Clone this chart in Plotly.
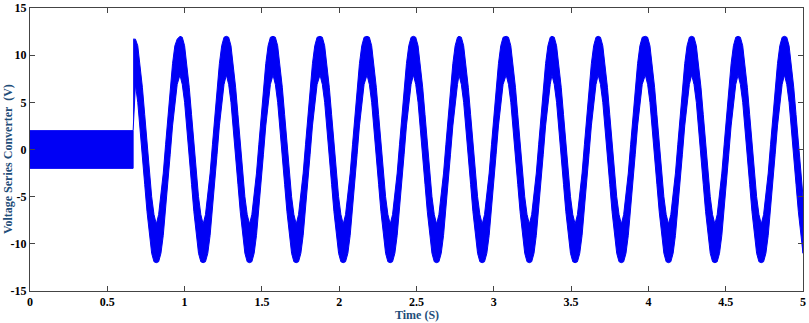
import plotly.graph_objects as go

# PWM section before the converter starts (0 .. 0.667 s)
pwm_time = [0.0, 0.667]
pwm_high = 2.0
pwm_low = -2.0

# read-off peak times of the sine part (first one is the switch-on instant)
peak_times = [0.667, 0.97, 1.27, 1.572, 1.876, 2.18, 2.48, 2.775, 3.08,
              3.376, 3.675, 3.98, 4.28, 4.58, 4.88]
first_peak_top = 11.7
t_end = 5.0

# band shape of one cycle (offset from its peak, upper / lower edge in V)
cycle_offset = [0.0, 0.015, 0.03, 0.045, 0.06, 0.075, 0.09, 0.105, 0.12, 0.135,
                0.15, 0.165, 0.18, 0.195, 0.21, 0.225, 0.24, 0.255, 0.27, 0.285]
cycle_upper = [12.0, 11.9, 11.0, 9.1, 6.6, 3.7, 0.5, -2.5, -5.0, -6.9,
               -7.9, -6.9, -5.0, -2.5, 0.5, 3.7, 6.6, 9.1, 11.0, 11.9]
cycle_lower = [7.9, 6.9, 5.0, 2.5, -0.5, -3.7, -6.6, -9.1, -11.0, -11.9,
               -12.0, -11.9, -11.0, -9.1, -6.6, -3.7, -0.5, 2.5, 5.0, 6.9]

x_ticks = [0, 0.5, 1, 1.5, 2, 2.5, 3, 3.5, 4, 4.5, 5]
x_labels = ['0', '0.5', '1', '1.5', '2', '2.5', '3', '3.5', '4', '4.5', '5']
y_ticks = [-15, -10, -5, 0, 5, 10, 15]
y_labels = ['-15', '-10', '-5', '0', '5', '10', '15']

# assemble the band edges
t_band, up_band, lo_band = [], [], []
for i, tp in enumerate(peak_times):
    for off, u, l in zip(cycle_offset, cycle_upper, cycle_lower):
        t = round(tp + off, 4)
        if t > t_end:
            break
        if i + 1 < len(peak_times) and t >= peak_times[i + 1]:
            break
        if i == 0:
            u = min(u, first_peak_top)
        t_band.append(t)
        up_band.append(u)
        lo_band.append(l)
lo_band[0] = pwm_high  # vertical jump at switch-on

poly_x = t_band + t_band[::-1]
poly_y = up_band + lo_band[::-1]

BLUE = '#0000f5'
fig = go.Figure()

fig.add_trace(go.Scatter(x=[pwm_time[0], pwm_time[1], pwm_time[1], pwm_time[0]],
                         y=[pwm_high, pwm_high, pwm_low, pwm_low],
                         fill='toself', fillcolor=BLUE, mode='lines',
                         line=dict(color=BLUE, width=1), hoverinfo='skip'))

fig.add_trace(go.Scatter(x=poly_x, y=poly_y, fill='toself', fillcolor=BLUE,
                         mode='lines', line=dict(color=BLUE, width=1),
                         hoverinfo='skip'))

tick_font = dict(family='Liberation Serif', size=12, color='black')
title_font = dict(family='Liberation Serif', size=12, color='#1f4e79')

fig.update_layout(
    width=809, height=323,
    margin=dict(l=30, r=6, t=8, b=32),
    plot_bgcolor='white', paper_bgcolor='white',
    showlegend=False,
    xaxis=dict(range=[0, 5], tickvals=x_ticks,
               ticktext=['<b>%s</b>' % s for s in x_labels],
               ticks='inside', ticklen=5, tickcolor='#444', mirror='ticks',
               showline=True, linecolor='#444', linewidth=1, automargin=False,
               showgrid=False, zeroline=False, tickfont=tick_font),
    yaxis=dict(range=[-15, 15], tickvals=y_ticks,
               ticktext=['<b>%s</b>' % s for s in y_labels],
               ticks='inside', ticklen=5, tickcolor='#444', mirror='ticks',
               showline=True, linecolor='#444', linewidth=1, automargin=False,
               showgrid=False, zeroline=False, tickfont=tick_font),
    annotations=[
        dict(text='<b>Voltage Series Converter  (V)</b>', textangle=-90,
             xref='paper', yref='paper', x=0, y=0.466, xshift=-22,
             xanchor='center', yanchor='middle',
             showarrow=False, font=title_font),
        dict(text='<b>Time (S)</b>', xref='paper', yref='paper',
             x=0.5, y=0, yshift=-24, xanchor='center', yanchor='middle',
             showarrow=False, font=title_font),
    ],
)

fig.write_html("out.html", config={'displayModeBar': False},
               post_script="document.body.style.margin='0';")
